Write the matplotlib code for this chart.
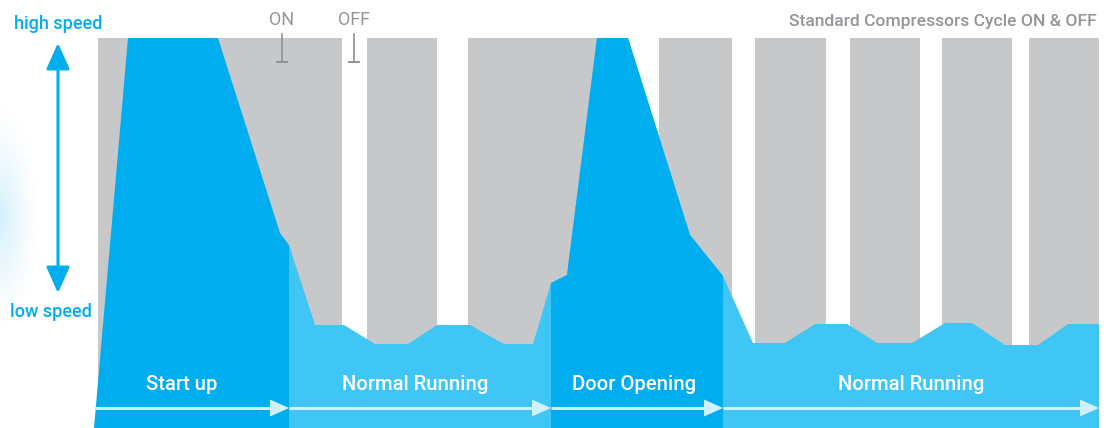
import matplotlib
matplotlib.use("Agg")
import matplotlib.pyplot as plt
import numpy as np

# ---------------- data ----------------
# time axis in arbitrary units (0..1106), speed axis 0..428 (390 = high speed)
HIGH = 390

# standard compressor ON periods (start, end)
on_start = [98, 367, 468, 659, 755, 850, 942, 1029]
on_end = [342, 437, 612, 732, 826, 920, 1012, 1099]

# variable speed profile, phase by phase
startup_t = [94, 128, 218, 280, 289, 289]
startup_v = [0, 390, 390, 195, 183, 0]

normal1_t = [289, 315, 344, 375, 408, 437, 470, 504, 533, 551]
normal1_v = [183, 103, 103, 84, 84, 103, 103, 84, 84, 145]

door_t = [551, 567, 597, 628, 690, 723]
door_v = [145, 153, 390, 390, 193, 152]

normal2_t = [723, 753, 785, 815, 847, 877, 912, 945, 972, 1005, 1038, 1068, 1099]
normal2_v = [152, 85, 85, 104, 104, 85, 85, 105, 105, 83, 83, 104, 104]

phase_labels = ["Start up", "Normal Running", "Door Opening", "Normal Running"]
phase_bounds = [94, 289, 551, 723, 1099]
phase_label_t = [182, 415, 634, 911]

marker_labels = ["ON", "OFF"]
marker_t = [282, 354]

title = "Standard Compressors Cycle ON & OFF"

# ---------------- style ----------------
GRAY = "#C7C8CA"
DARK = "#00AEEF"
LIGHT = "#40C6F4"
ARROW = "#CFF1FC"
TXTGRAY = "#939598"
FONT = ["Roboto", "DejaVu Sans"]
W = "medium"

fig = plt.figure(figsize=(11.06, 4.28), dpi=100)
ax = fig.add_axes([0, 0, 1, 1])
ax.set_xlim(0, 1106)
ax.set_ylim(0, 428)
ax.axis("off")

# left glow
gx = np.linspace(0, 60, 120)
gy = np.linspace(60, 360, 300)
GX, GY = np.meshgrid(gx, gy)
d = np.sqrt((GX / 40.0) ** 2 + ((GY - 210) / 115.0) ** 2)
alpha = np.clip(1 - d, 0, 1) ** 1.4 * 0.5
img = np.zeros(GX.shape + (4,))
img[..., 0] = 0xA8 / 255
img[..., 1] = 0xE0 / 255
img[..., 2] = 0xF8 / 255
img[..., 3] = alpha
ax.imshow(img, extent=[0, 60, 60, 360], origin="lower", zorder=0, aspect="auto")

# gray compressor bars
for s, e in zip(on_start, on_end):
    ax.fill_between([s, e], 0, HIGH, color=GRAY, lw=0, zorder=1)

# light blue normal running
nt = normal1_t + door_t[1:-1] + normal2_t
nv = normal1_v + door_v[1:-1] + normal2_v
ax.fill(nt + [nt[-1], nt[0]], nv + [0, 0], color=LIGHT, lw=0, zorder=2)

# dark blue start-up and door opening
ax.fill(startup_t, startup_v, color=DARK, lw=0, zorder=3)
ax.fill(door_t + [door_t[-1], door_t[0]], door_v + [0, 0], color=DARK, lw=0, zorder=3)

# phase arrows and labels
ay = 20
hl, hw = 19, 8.5
for i, lab in enumerate(phase_labels):
    x0, x1 = phase_bounds[i], phase_bounds[i + 1]
    ax.plot([x0, x1 - hl + 2], [ay, ay], color=ARROW, lw=2.2, solid_capstyle="butt", zorder=4)
    ax.fill([x1 - hl, x1, x1 - hl], [ay + hw, ay, ay - hw], color=ARROW, lw=0, zorder=4)
    ax.text(phase_label_t[i], 43.5, lab, color="white", fontsize=14.6, ha="center",
            va="center", family=FONT, weight=W, zorder=5)

# ON / OFF markers
for lab, t in zip(marker_labels, marker_t):
    ax.text(t, 408, lab, color=TXTGRAY, fontsize=13, ha="center", va="center", family=FONT)
    ax.plot([t, t], [366, 394], color="#8E9093", lw=1.2, zorder=6)
    ax.plot([t - 5, t + 5], [366, 366], color="#8E9093", lw=1.4, zorder=6)

# title
ax.text(1097, 407, title, color=TXTGRAY, fontsize=12.6, ha="right", va="center",
        family=FONT, weight=W)

# speed axis
ax.text(58, 404, "high speed", color=DARK, fontsize=13, ha="center", va="center",
        family=FONT, weight=W)
ax.text(51, 116, "low speed", color=DARK, fontsize=13, ha="center", va="center",
        family=FONT, weight=W)
ax.annotate("", xy=(58, 385), xytext=(58, 135),
            arrowprops=dict(arrowstyle="<|-|>,head_length=1.0,head_width=0.45",
                            color=DARK, lw=2.2, mutation_scale=16, shrinkA=0, shrinkB=0))

fig.savefig("out.png", dpi=100)
